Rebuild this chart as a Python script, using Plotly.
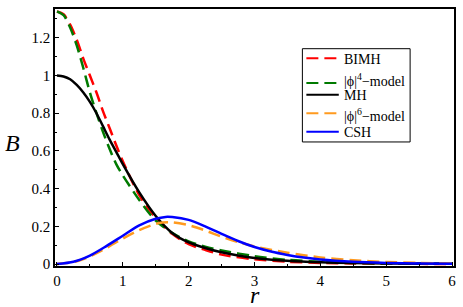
import plotly.graph_objects as go

# ---- data ----
r_red = [0, 0.1, 0.2, 0.3, 0.4, 0.5, 0.6, 0.7, 0.8, 0.9, 1.0, 1.25, 1.5, 1.75, 2.0, 2.25, 2.5, 3.0, 3.5, 4.0, 4.5, 5.0, 5.5, 6.0]
B_bimh = [1.34, 1.325, 1.27, 1.19, 1.09, 1.0, 0.91, 0.81, 0.72, 0.63, 0.545, 0.365, 0.245, 0.16, 0.105, 0.075, 0.05, 0.025, 0.012, 0.006, 0.003, 0.0015, 0.0008, 0.0004]

r_green = [0, 0.1, 0.2, 0.3, 0.4, 0.5, 0.6, 0.7, 0.8, 0.9, 1.0, 1.25, 1.5, 1.75, 2.0, 2.25, 2.5, 3.0, 3.5, 4.0, 4.5, 5.0, 5.5, 6.0]
B_phi4 = [1.34, 1.32, 1.255, 1.16, 1.04, 0.91, 0.80, 0.70, 0.61, 0.53, 0.47, 0.34, 0.23, 0.165, 0.12, 0.092, 0.072, 0.042, 0.022, 0.012, 0.006, 0.003, 0.0015, 0.001]

r_black = [0, 0.1, 0.2, 0.3, 0.4, 0.5, 0.6, 0.7, 0.8, 0.9, 1.0, 1.25, 1.5, 1.75, 2.0, 2.25, 2.5, 2.75, 3.0, 3.5, 4.0, 4.5, 5.0, 5.5, 6.0]
B_mh = [1.0, 0.995, 0.98, 0.95, 0.91, 0.86, 0.80, 0.73, 0.66, 0.595, 0.53, 0.38, 0.255, 0.165, 0.115, 0.085, 0.062, 0.045, 0.032, 0.017, 0.009, 0.005, 0.003, 0.002, 0.001]

r_orange = [0, 0.25, 0.5, 0.75, 1.0, 1.25, 1.5, 1.6, 1.75, 2.0, 2.25, 2.5, 2.75, 3.0, 3.5, 4.0, 4.5, 5.0, 5.5, 6.0]
B_phi6 = [0, 0.01, 0.04, 0.085, 0.135, 0.18, 0.213, 0.22, 0.221, 0.206, 0.178, 0.145, 0.117, 0.093, 0.06, 0.035, 0.02, 0.011, 0.006, 0.003]

r_blue = [0, 0.25, 0.5, 0.75, 1.0, 1.25, 1.5, 1.65, 1.75, 2.0, 2.25, 2.5, 2.75, 3.0, 3.25, 3.5, 3.75, 4.0, 4.5, 5.0, 5.5, 6.0]
B_csh = [0, 0.012, 0.045, 0.095, 0.15, 0.205, 0.24, 0.25, 0.249, 0.234, 0.2, 0.16, 0.122, 0.09, 0.066, 0.048, 0.034, 0.024, 0.012, 0.006, 0.003, 0.001]

x_ticks = [0, 1, 2, 3, 4, 5, 6]
y_ticks = [0, 0.2, 0.4, 0.6, 0.8, 1.0, 1.2]
y_ticklabels = ["0", "0.2", "0.4", "0.6", "0.8", "1", "1.2"]

names = ["BIMH", "|ϕ|<sup>4</sup>−model", "MH", "|ϕ|<sup>6</sup>−model", "CSH"]

FONT = "Liberation Serif"
W, H = 463, 307
ML, MR, MT, MB = 55, 8, 7, 41
PW, PH = W - ML - MR, H - MT - MB


def px_x(px):
    return (px - ML) / PW


def px_y(py):
    return (H - MB - py) / PH


fig = go.Figure()
series = [
    (r_red, B_bimh, names[0], "#ff0000", "12px,6px"),
    (r_green, B_phi4, names[1], "#007a00", "12px,6px"),
    (r_black, B_mh, names[2], "#000000", "solid"),
    (r_orange, B_phi6, names[3], "#ff9a1f", "12px,6px"),
    (r_blue, B_csh, names[4], "#0000ff", "solid"),
]
for x, y, nm, col, dash in series:
    fig.add_trace(go.Scatter(
        x=x, y=y, name=nm, mode="lines", showlegend=False,
        line=dict(color=col, width=2.5, dash=dash, shape="spline", smoothing=0.8),
    ))

# ---- hand-laid legend (box, samples, labels) ----
shapes = [dict(type="rect", xref="paper", yref="paper",
               x0=px_x(303), x1=px_x(411), y0=px_y(141), y1=px_y(47),
               line=dict(color="black", width=1), fillcolor="white", layer="above")]
annotations = []
row_line_y = [56.7, 81.5, 93.3, 112.0, 130.7]
row_text_y = [57.5, 79.0, 94.0, 114.0, 131.5]
for (x, y, nm, col, dash), ly, ty in zip(series, row_line_y, row_text_y):
    shapes.append(dict(type="line", xref="paper", yref="paper",
                       x0=px_x(307), x1=px_x(339.5), y0=px_y(ly), y1=px_y(ly),
                       line=dict(color=col, width=2, dash=dash), layer="above"))
    annotations.append(dict(text=nm, xref="paper", yref="paper",
                            x=px_x(343), y=px_y(ty), xanchor="left", yanchor="middle",
                            showarrow=False, font=dict(family=FONT, size=14, color="black")))

annotations += [
    dict(text="<i>B</i>", xref="paper", yref="paper", x=px_x(12), y=px_y(142),
         xanchor="center", yanchor="middle",
         showarrow=False, font=dict(family=FONT, size=24, color="black")),
    dict(text="<i>r</i>", xref="paper", yref="paper", x=px_x(256), y=px_y(295),
         xanchor="center", yanchor="middle", showarrow=False,
         font=dict(family=FONT, size=24, color="black")),
]

fig.update_layout(
    width=W, height=H,
    margin=dict(l=ML, r=MR, t=MT, b=MB),
    paper_bgcolor="white", plot_bgcolor="white",
    font=dict(family=FONT, size=15, color="black"),
    showlegend=False,
    xaxis=dict(
        range=[-0.03, 6.03], tickvals=x_ticks, ticktext=[str(v) for v in x_ticks],
        showgrid=False, zeroline=False, showline=True, linecolor="black", linewidth=1.5,
        mirror=True, ticks="inside", ticklen=4, tickcolor="black",
        minor=dict(dtick=0.5, ticks="inside", ticklen=2, tickcolor="black"),
        tickfont=dict(family=FONT, size=15, color="black"),
    ),
    yaxis=dict(
        range=[-0.0105, 1.353], tickvals=y_ticks, ticktext=y_ticklabels,
        showgrid=False, zeroline=False, showline=True, linecolor="black", linewidth=1.5,
        mirror=True, ticks="inside", ticklen=4, tickcolor="black",
        minor=dict(dtick=0.1, ticks="inside", ticklen=2, tickcolor="black"),
        tickfont=dict(family=FONT, size=15, color="black"),
    ),
    shapes=shapes,
    annotations=annotations,
)

fig.write_html("out.html", config={"displayModeBar": False},
               post_script="document.body.style.margin='0';")
